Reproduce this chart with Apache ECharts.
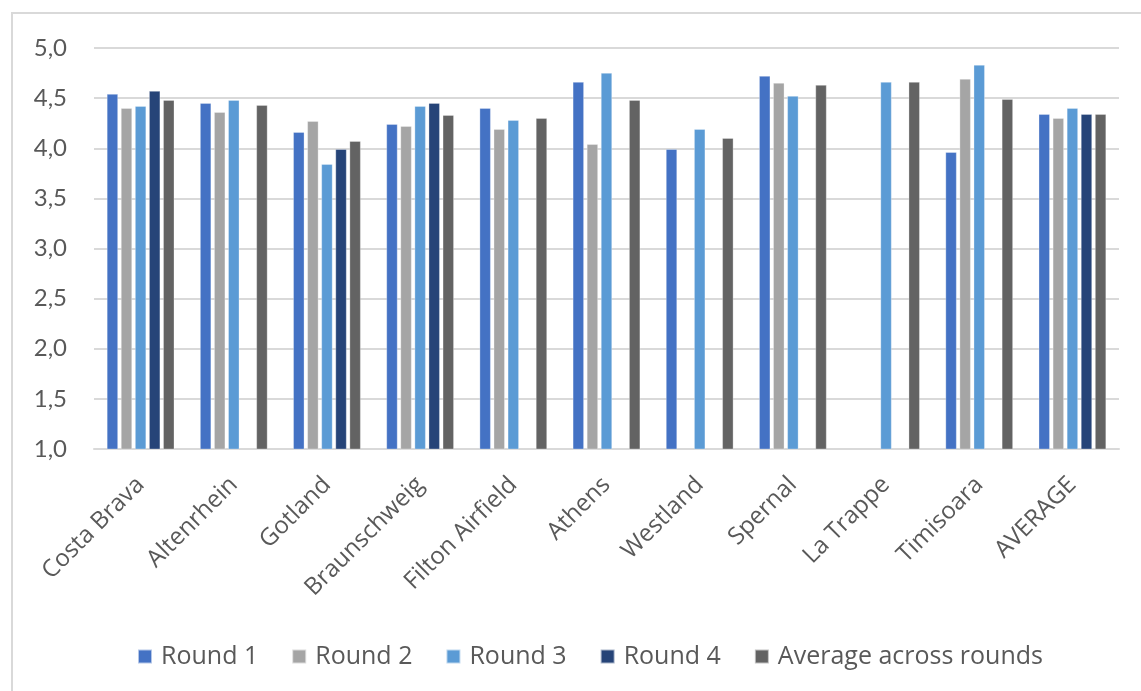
<!DOCTYPE html>
<html>
<head>
<meta charset="utf-8">
<script src="https://cdn.jsdelivr.net/npm/echarts@6/dist/echarts.min.js"></script>
<style>
html,body{margin:0;padding:0;background:#fff;}
#chart{width:1141px;height:691px;}
</style>
</head>
<body>
<div id="chart"></div>
<script>
const categories = ['Costa Brava','Altenrhein','Gotland','Braunschweig','Filton Airfield','Athens','Westland','Spernal','La Trappe','Timisoara','AVERAGE'];
const round1 = [4.54, 4.45, 4.16, 4.24, 4.40, 4.66, 3.99, 4.72, null, 3.96, 4.34];
const round2 = [4.40, 4.36, 4.27, 4.22, 4.19, 4.04, null, 4.65, null, 4.69, 4.30];
const round3 = [4.42, 4.48, 3.84, 4.42, 4.28, 4.75, 4.19, 4.52, 4.66, 4.83, 4.40];
const round4 = [4.57, null, 3.99, 4.45, null, null, null, null, null, null, 4.34];
const averageAcross = [4.48, 4.43, 4.07, 4.33, 4.30, 4.48, 4.10, 4.63, 4.66, 4.49, 4.34];
const seriesNames = ['Round 1','Round 2','Round 3','Round 4','Average across rounds'];
const colors = ['#4472C4','#A5A5A5','#5B9BD5','#264478','#636363'];
const yTicks = {min: 1, max: 5, interval: 0.5};

const chart = echarts.init(document.getElementById('chart'));
const font = 'Lato, "Open Sans", sans-serif';
const font2 = '"Open Sans", Lato, sans-serif';
const dataSets = [round1, round2, round3, round4, averageAcross];

chart.setOption({
  animation: false,
  backgroundColor: '#fff',
  color: colors,
  graphic: [{
    type: 'rect',
    shape: {x: 12, y: 13, width: 1300, height: 900},
    style: {fill: 'none', stroke: '#d9d9d9', lineWidth: 2},
    silent: true
  }],
  grid: {left: 94, right: 22, top: 48, bottom: 242, containLabel: false},
  legend: {
    data: seriesNames,
    bottom: 22,
    left: 137,
    padding: 0,
    icon: 'rect',
    itemWidth: 14,
    itemHeight: 14,
    itemGap: 33,
    textStyle: {fontFamily: font2, fontSize: 25, color: '#595959', padding: [0,0,0,4]}
  },
  xAxis: {
    type: 'category',
    data: categories,
    axisLine: {lineStyle: {color: '#d9d9d9', width: 2}},
    axisTick: {show: false},
    axisLabel: {rotate: 45, fontFamily: font2, fontSize: 24, color: '#595959', margin: 32, interval: 0}
  },
  yAxis: {
    type: 'value',
    min: yTicks.min,
    max: yTicks.max,
    interval: yTicks.interval,
    axisLine: {show: false},
    axisTick: {show: false},
    splitLine: {lineStyle: {color: '#d9d9d9', width: 2}},
    axisLabel: {
      fontFamily: font, fontSize: 24, color: '#595959', margin: 27,
      formatter: v => v.toFixed(1).replace('.', ',')
    }
  },
  series: seriesNames.map((n, i) => ({
    name: n,
    type: 'bar',
    data: dataSets[i],
    barWidth: 11,
    barGap: '28%',
    itemStyle: {color: colors[i], borderColor: 'rgba(255,255,255,0.6)', borderWidth: 0.5}
  }))
});
</script>
</body>
</html>
